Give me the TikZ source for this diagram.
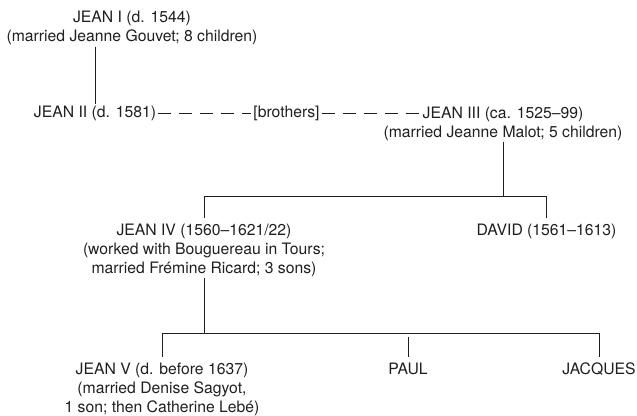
\documentclass[tikz,border=0pt]{standalone}
\usepackage{fontspec}
\setmainfont{TeX Gyre Heros}
\begin{document}
\begin{tikzpicture}[x = 0.75pt, y = -0.75pt, black!88, line width = 0.5pt,
                    person/.style = {align = center, inner sep = 0pt, outer sep = 1.5pt,
                                     font = \fontsize{11.8}{14.25}\selectfont},
                    drop/.style = {shorten <= 3pt, shorten >= 3pt},
                    brotherline/.style = {dash pattern = on 9.75pt off 6pt}]
                    \useasboundingbox (0,0) rectangle (637,416);
                    \node[person] (j1) at (132,28) {JEAN I (d. 1544)\\(married Jeanne Gouvet; 8 children)};
                    \node[person] (j2) at (95,113) {JEAN II (d. 1581)};
                    \node[person] (bro) at (286.5,113) {[brothers]};
                    \node[person] (j3) at (503,123.5) {JEAN III (ca. 1525--99)\\(married Jeanne Malot; 5 children)};
                    \coordinate (j3w) at (421,113);
                    \node[person] (j4) at (204,250) {JEAN IV (1560--1621/22)\\(worked with Bouguereau in Tours;\\married Frémine Ricard; 3 sons)};
                    \node[person] (dav) at (546.5,231) {DAVID (1561--1613)};
                    \node[person] (j5) at (162,389) {JEAN V (d. before 1637)\\(married Denise Sagyot,\\1 son; then Catherine Lebé)};
                    \node[person] (paul) at (408,369) {PAUL};
                    \node[person] (jac) at (599,369) {JACQUES};
                    \coordinate (up) at (0,196);
                    \coordinate (low) at (0,333);
                    \draw (j1.south -| j2.north) -- (j2.north);
                    \draw[brotherline] (j2.east) -- (bro.west);
                    \draw[brotherline] (bro.east) -- (j3w);
                    \draw (j3.south) -- (j3.south |- up);
                    \draw[drop] (j4.north) -- (j4.north |- up) -- (dav.north |- up) -- (dav.north);
                    \draw (j4.south) -- (j4.south |- low);
                    \draw[drop] (j5.north) -- (j5.north |- low) -- (jac.north |- low) -- (jac.north);
                    \draw[drop] (paul.north |- low) -- (paul.north);
\end{tikzpicture}
\end{document}
